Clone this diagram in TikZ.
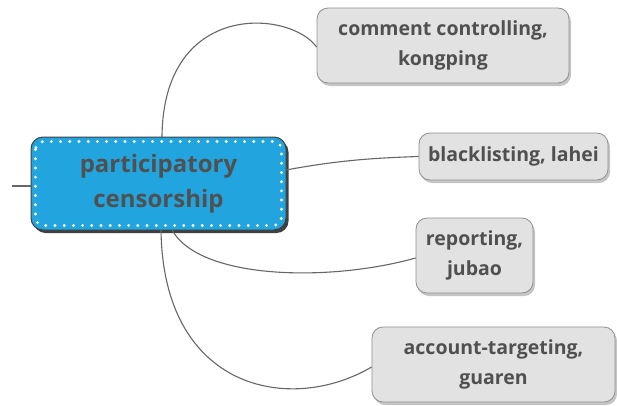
\documentclass[tikz,border=0pt]{standalone}
\usepackage{fontspec}
\setmainfont{Open Sans}
\usetikzlibrary{shadows,calc}
\definecolor{topicblue}{HTML}{22A5DE}
\definecolor{leafgray}{HTML}{E2E2E2}
\definecolor{leafedge}{HTML}{8E8E8E}
\definecolor{inktext}{HTML}{505050}
\definecolor{wire}{HTML}{666666}
\tikzset{
  x=1pt, y=-1pt,
  central/.style={draw=black!75, line width=1pt, fill=topicblue, rounded corners=12pt,
    minimum width=255pt, minimum height=93pt, inner sep=0pt,
    drop shadow={shadow xshift=2.5pt, shadow yshift=-3pt, fill=black, opacity=0.75},
    font=\bfseries\fontsize{24}{35}\selectfont, text=inktext, align=center},
  leaf/.style={draw=leafedge, line width=0.8pt, fill=leafgray, rounded corners=11pt,
    inner sep=0pt, align=center, text=inktext,
    drop shadow={shadow xshift=2pt, shadow yshift=-3pt, fill=black!45, opacity=0.5},
    font=\bfseries\fontsize{19.5}{30}\selectfont},
  wirestyle/.style={draw=wire, line width=1.1pt},
}
\begin{document}
\begin{tikzpicture}
\useasboundingbox (0,0) rectangle (617,405);

% branch connectors
\coordinate (stub) at (12,186);
\coordinate (c1) at (162,137);
\coordinate (c2) at (286,170);
\coordinate (c3) at (172,230);
\coordinate (c4) at (161,230);

\node[central] (root) at (158.5,183.5) {participatory\\censorship};
% white dotted inner frame
\draw[white, line width=3.2pt, line cap=round, dash pattern=on 0pt off 9.2pt, rounded corners=8pt]
  ($(root.north west)+(5,5)$) rectangle ($(root.south east)+(-5,-5)$);

\node[leaf, minimum width=252pt, minimum height=75pt] (n1) at (443,45.5) {comment controlling,\\kongping};
\node[leaf, minimum width=189pt, minimum height=47pt] (n2) at (513.5,156.5) {blacklisting, lahei};
\node[leaf, minimum width=117pt, minimum height=75pt] (n3) at (474.5,255.5) {reporting,\\jubao};
\node[leaf, minimum width=243pt, minimum height=75pt] (n4) at (493.5,364.5) {account-targeting,\\guaren};

\draw[wirestyle] (stub) -- (root.west |- stub);
\draw[wirestyle] (c1) .. controls (163,0) and (290,10) .. (n1.west |- 0,47);
\draw[wirestyle] (c2) .. controls (340,160) and (375,158) .. (n2.west);
\draw[wirestyle] (c3) .. controls (200,280) and (330,282) .. (n3.west |- 0,258);
\draw[wirestyle] (c4) .. controls (163,390) and (290,415) .. (n4.west |- 0,367);
\end{tikzpicture}
\end{document}
